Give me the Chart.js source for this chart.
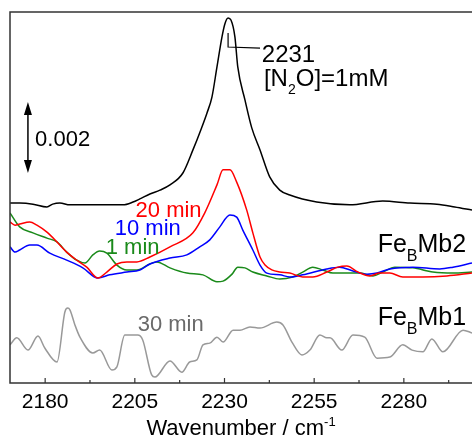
<!DOCTYPE html>
<html>
<head>
<meta charset="utf-8">
<script src="https://cdn.jsdelivr.net/npm/chart.js@4/dist/chart.umd.min.js"></script>
<style>
  html, body { margin: 0; padding: 0; background: #fff; }
  #wrap { width: 472px; height: 436px; }
</style>
</head>
<body>
<div id="wrap"><canvas id="c" width="472" height="436"></canvas></div>
<script>
// wavenumbers (cm-1) and absorbance (mOD, offset)
const wnN2O = [2170.2, 2172.9, 2176.6, 2180.5, 2182.1, 2184.1, 2186.9, 2192.5, 2198.0, 2201.7, 2204.5, 2206.4, 2209.2, 2212.0, 2214.8, 2218.4, 2221.2, 2223.5, 2225.1, 2226.5, 2227.9, 2229.3, 2230.1, 2231.0, 2231.8, 2232.9, 2233.7, 2235.7, 2237.6, 2239.9, 2242.6, 2245.4, 2248.2, 2255.7, 2264.9, 2274.1, 2281.7, 2289.2, 2294.2, 2299.0];
const absN2O = [5.14, 5.14, 5.11, 5.03, 5.11, 5.14, 5.09, 5.09, 5.09, 5.09, 5.17, 5.26, 5.40, 5.51, 5.66, 6.00, 6.66, 7.26, 7.71, 8.17, 9.03, 9.89, 10.26, 10.43, 10.37, 9.89, 9.03, 8.09, 7.29, 6.66, 5.89, 5.51, 5.37, 5.17, 5.09, 5.20, 5.14, 5.11, 5.03, 4.94];

const wn20 = [2170.2, 2171.6, 2172.9, 2175.7, 2177.7, 2180.5, 2183.3, 2186.0, 2188.8, 2191.6, 2194.7, 2197.2, 2200.0, 2202.8, 2205.6, 2209.2, 2214.8, 2221.2, 2224.5, 2227.9, 2229.6, 2231.5, 2233.4, 2236.2, 2237.9, 2239.9, 2241.3, 2243.2, 2245.4, 2248.2, 2251.8, 2254.6, 2258.5, 2261.6, 2264.1, 2267.2, 2270.5, 2273.3, 2276.1, 2279.7, 2285.3, 2292.0, 2299.0];
const abs20 = [4.60, 4.51, 4.54, 4.60, 4.51, 4.31, 4.03, 3.74, 3.51, 3.31, 3.00, 3.17, 3.40, 3.46, 3.46, 3.60, 3.89, 4.29, 4.86, 5.66, 6.09, 6.09, 5.74, 4.94, 4.29, 3.60, 3.37, 3.23, 3.17, 3.14, 3.03, 3.03, 3.17, 3.31, 3.34, 3.17, 3.06, 3.14, 3.14, 3.03, 3.03, 3.06, 3.14];

const wn10 = [2170.2, 2171.6, 2172.9, 2175.7, 2177.7, 2181.3, 2186.0, 2190.5, 2194.7, 2198.0, 2202.8, 2206.4, 2209.2, 2214.8, 2219.5, 2223.1, 2225.9, 2228.7, 2231.5, 2233.4, 2235.1, 2237.9, 2239.9, 2241.8, 2245.4, 2248.2, 2251.8, 2258.5, 2262.1, 2265.8, 2269.7, 2272.5, 2276.1, 2282.5, 2290.0, 2293.7, 2299.0];
const abs10 = [3.89, 3.74, 3.80, 3.94, 3.94, 3.71, 3.51, 3.29, 3.00, 3.09, 3.17, 3.23, 3.40, 3.57, 3.66, 3.89, 4.09, 4.46, 4.80, 4.74, 4.37, 3.80, 3.37, 3.14, 3.09, 3.03, 3.09, 3.26, 3.31, 3.20, 3.11, 3.14, 3.26, 3.31, 3.26, 3.31, 3.43];

const wn1 = [2170.2, 2172.9, 2176.6, 2180.5, 2183.3, 2186.0, 2188.8, 2191.1, 2193.3, 2195.2, 2197.2, 2200.0, 2202.8, 2205.6, 2209.2, 2211.1, 2214.8, 2219.5, 2224.0, 2227.9, 2229.6, 2232.1, 2233.7, 2235.7, 2237.9, 2241.8, 2245.4, 2249.0, 2251.8, 2254.6, 2257.4, 2260.2, 2264.1, 2267.7, 2271.4, 2274.1, 2277.5, 2282.5, 2288.1, 2293.7, 2299.0];
const abs1 = [4.86, 4.46, 4.29, 4.14, 4.03, 3.74, 3.51, 3.43, 3.66, 3.77, 3.71, 3.37, 3.23, 3.23, 3.40, 3.46, 3.29, 3.14, 3.09, 2.89, 2.91, 3.11, 3.31, 3.29, 3.17, 3.06, 2.97, 3.03, 3.17, 3.31, 3.23, 3.14, 3.14, 3.14, 3.06, 3.17, 3.31, 3.29, 3.17, 3.14, 3.17];

const wnMb1 = [2170.2, 2172.1, 2175.2, 2178.0, 2179.9, 2183.3, 2185.5, 2186.3, 2186.9, 2188.3, 2189.7, 2193.3, 2195.2, 2198.6, 2200.0, 2202.2, 2205.8, 2207.2, 2209.7, 2210.6, 2214.8, 2218.1, 2220.3, 2222.3, 2224.0, 2225.9, 2227.9, 2229.6, 2232.4, 2234.3, 2237.1, 2239.9, 2244.6, 2246.3, 2248.8, 2251.6, 2253.8, 2256.6, 2258.5, 2259.4, 2262.7, 2265.8, 2269.1, 2272.5, 2276.1, 2279.7, 2282.3, 2285.3, 2287.8, 2290.9, 2296.5, 2299.0];
const absMb1 = [1.09, 1.29, 0.94, 1.34, 1.00, 0.60, 2.03, 2.14, 2.09, 1.66, 1.31, 0.86, 0.94, 0.37, 0.46, 1.37, 1.37, 1.23, 0.23, 0.17, 0.63, 0.31, 0.60, 0.66, 1.09, 1.14, 1.31, 1.17, 1.51, 1.51, 1.60, 1.57, 1.74, 1.66, 1.17, 0.80, 0.94, 1.37, 1.29, 1.29, 0.94, 1.37, 1.31, 0.71, 0.74, 1.09, 0.94, 0.89, 1.26, 0.89, 1.51, 1.43];

const majorTicks = [2180, 2205, 2230, 2255, 2280];
const minorTicks = [2192.5, 2217.5, 2242.5, 2267.5, 2292.5];

const FONT = '"Liberation Sans", Arial, sans-serif';

function pts(xs, ys) {
  return xs.map((x, i) => ({ x: x, y: ys[i] }));
}

function line(label, xs, ys, color) {
  return {
    label: label,
    data: pts(xs, ys),
    borderColor: color,
    borderWidth: 1.5,
    pointRadius: 0,
    cubicInterpolationMode: 'monotone',
    fill: false
  };
}

// text with a sub/superscript part: parts = [[text, size, dy], ...]
function drawParts(ctx, x, y, parts, color) {
  ctx.fillStyle = color;
  ctx.textBaseline = 'alphabetic';
  ctx.textAlign = 'left';
  parts.forEach(p => {
    ctx.font = p[1] + 'px ' + FONT;
    ctx.fillText(p[0], x, y + p[2]);
    x += ctx.measureText(p[0]).width;
  });
}

const decor = {
  id: 'decor',
  afterDraw(chart) {
    const ctx = chart.ctx;
    const a = chart.chartArea;
    const xs = chart.scales.x, ys = chart.scales.y;
    const px = v => xs.getPixelForValue(v);
    const py = v => ys.getPixelForValue(v);
    ctx.save();

    // frame
    ctx.strokeStyle = '#333';
    ctx.lineWidth = 1.5;
    ctx.beginPath();
    ctx.moveTo(a.right + 2, a.top);
    ctx.lineTo(a.left, a.top);
    ctx.lineTo(a.left, a.bottom);
    ctx.lineTo(a.right + 2, a.bottom);
    ctx.stroke();

    // inward ticks
    ctx.lineWidth = 1.2;
    ctx.beginPath();
    majorTicks.forEach(v => { ctx.moveTo(px(v), a.bottom); ctx.lineTo(px(v), a.bottom - 5); });
    minorTicks.forEach(v => { ctx.moveTo(px(v), a.bottom); ctx.lineTo(px(v), a.bottom - 3); });
    ctx.stroke();

    // scale bar 0.002
    const bx = px(2175.2), bt = py(8.03), bb = py(6.0);
    ctx.strokeStyle = '#000';
    ctx.fillStyle = '#000';
    ctx.lineWidth = 1.5;
    ctx.beginPath();
    ctx.moveTo(bx, bt + 8); ctx.lineTo(bx, bb - 8);
    ctx.stroke();
    ctx.beginPath();
    ctx.moveTo(bx, bt); ctx.lineTo(bx - 4, bt + 13); ctx.lineTo(bx + 4, bt + 13); ctx.closePath();
    ctx.moveTo(bx, bb); ctx.lineTo(bx - 4, bb - 13); ctx.lineTo(bx + 4, bb - 13); ctx.closePath();
    ctx.fill();
    drawParts(ctx, px(2177.2), py(6.77), [['0.002', 22, 0]], '#000');

    // peak leader line and labels
    ctx.lineWidth = 1.2;
    ctx.beginPath();
    ctx.moveTo(px(2231.0), py(10.0));
    ctx.lineTo(px(2231.0), py(9.6));
    ctx.lineTo(px(2239.9), py(9.57));
    ctx.stroke();
    drawParts(ctx, px(2240.4), py(9.17), [['2231', 24, 0]], '#000');
    drawParts(ctx, px(2241.0), py(8.49), [['[N', 24, 0], ['2', 14, 8], ['O]=1mM', 24, 0]], '#000');

    drawParts(ctx, px(2205.2), py(4.74), [['20 min', 22, 0]], '#ff0000');
    drawParts(ctx, px(2199.4), py(4.23), [['10 min', 22, 0]], '#0000ff');
    drawParts(ctx, px(2196.9), py(3.69), [['1 min', 22, 0]], '#1a8a1a');
    drawParts(ctx, px(2205.8), py(1.49), [['30 min', 22, 0]], '#6a6a6a');
    drawParts(ctx, px(2272.7), py(3.74), [['Fe', 25, 0], ['B', 16, 9], ['Mb2', 25, 0]], '#000');
    drawParts(ctx, px(2272.7), py(1.66), [['Fe', 25, 0], ['B', 16, 9], ['Mb1', 25, 0]], '#000');

    // axis title with superscript
    ctx.font = '22px ' + FONT;
    const w1 = ctx.measureText('Wavenumber / cm').width;
    ctx.font = '13px ' + FONT;
    const w2 = ctx.measureText('-1').width;
    const tx = (a.left + a.right) / 2 - (w1 + w2) / 2;
    drawParts(ctx, tx, a.bottom + 52, [['Wavenumber / cm', 22, 0], ['-1', 13, -9]], '#000');

    ctx.restore();
  }
};

new Chart(document.getElementById('c'), {
  type: 'line',
  data: {
    datasets: [
      line('N2O 1mM', wnN2O, absN2O, '#000000'),
      line('20 min', wn20, abs20, '#ff0000'),
      line('10 min', wn10, abs10, '#0000ff'),
      line('1 min', wn1, abs1, '#1a8a1a'),
      line('FeBMb1 30 min', wnMb1, absMb1, '#999999')
    ]
  },
  options: {
    responsive: false,
    animation: false,
    layout: { padding: { left: 10, right: 0, top: 12, bottom: 13.8 } },
    plugins: { legend: { display: false }, tooltip: { enabled: false } },
    scales: {
      x: {
        type: 'linear',
        min: 2170.2,
        max: 2299,
        afterBuildTicks: s => { s.ticks = majorTicks.map(v => ({ value: v })); },
        grid: { display: false, drawTicks: false },
        border: { display: false },
        ticks: {
          color: '#000',
          padding: 7,
          maxRotation: 0,
          autoSkip: false,
          font: { family: FONT, size: 21 },
          callback: v => String(v)
        }
      },
      y: {
        display: false,
        min: 0,
        max: 10.6
      }
    }
  },
  plugins: [decor]
});
</script>
</body>
</html>
